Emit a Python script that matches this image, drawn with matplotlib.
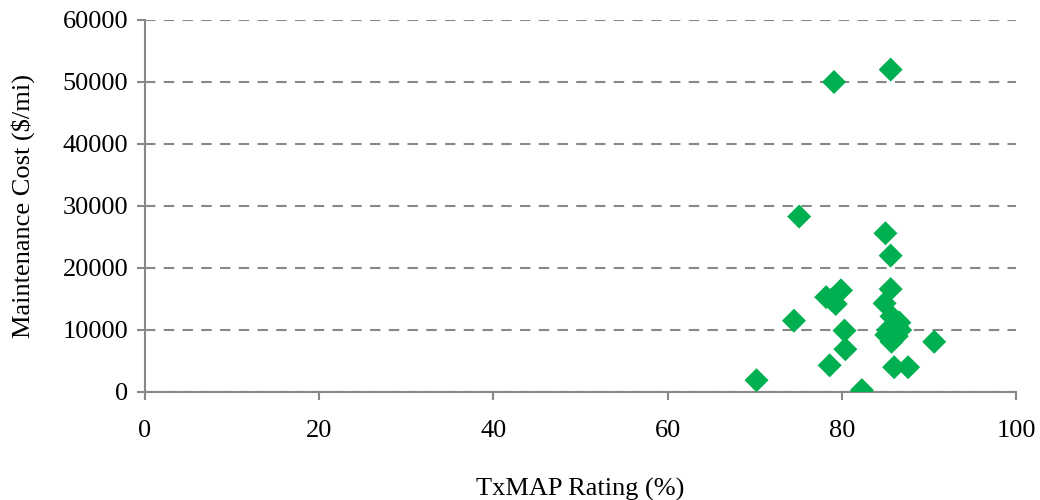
import matplotlib
matplotlib.use("Agg")
import matplotlib.pyplot as plt

# TxMAP rating (%) vs maintenance cost ($/mi)
txmap = [75.1, 85.0, 85.6, 78.2, 79.9, 79.3, 78.8, 85.6, 84.9, 85.7, 86.6, 86.7,
         85.1, 85.7, 86.3, 85.3, 74.5, 80.3, 80.4, 90.6, 78.6, 86.0, 87.6, 70.2,
         82.3, 79.1, 85.6]
cost = [28300, 25600, 22000, 15300, 16400, 14200, 14900, 16600, 14300, 12200, 11200, 10000,
        9200, 8100, 9000, 10000, 11500, 9900, 6900, 8100, 4300, 4000, 4000, 1900,
        300, 50000, 52000]

plt.rcParams['font.family'] = ['Liberation Serif', 'DejaVu Serif']

fig = plt.figure(figsize=(10.4, 5), dpi=100)
ax = fig.add_axes([0.1394, 0.216, 0.8376, 0.744])

ax.scatter(txmap, cost, marker='D', s=150, color='#00b050', edgecolors='none', zorder=3)

ax.set_xlim(0, 100)
ax.set_ylim(0, 60000)
ax.set_xticks(range(0, 101, 20))
ax.set_yticks(range(0, 60001, 10000))
ax.yaxis.grid(True, linestyle=(0, (5, 4)), color='#888888', linewidth=1.5)
ax.set_axisbelow(True)

for side in ['top', 'right']:
    ax.spines[side].set_visible(False)
for side in ['left', 'bottom']:
    ax.spines[side].set_color('#888888')
    ax.spines[side].set_linewidth(1.5)

ax.tick_params(axis='both', direction='out', length=6, width=1.5, color='#888888',
               labelsize=19, pad=6)
ax.tick_params(axis='x', pad=14)

ax.set_xlabel('TxMAP Rating (%)', fontsize=19, labelpad=26)
ax.set_ylabel('Maintenance Cost ($/mi)', fontsize=19, labelpad=20)

fig.savefig('out.png', dpi=100)
